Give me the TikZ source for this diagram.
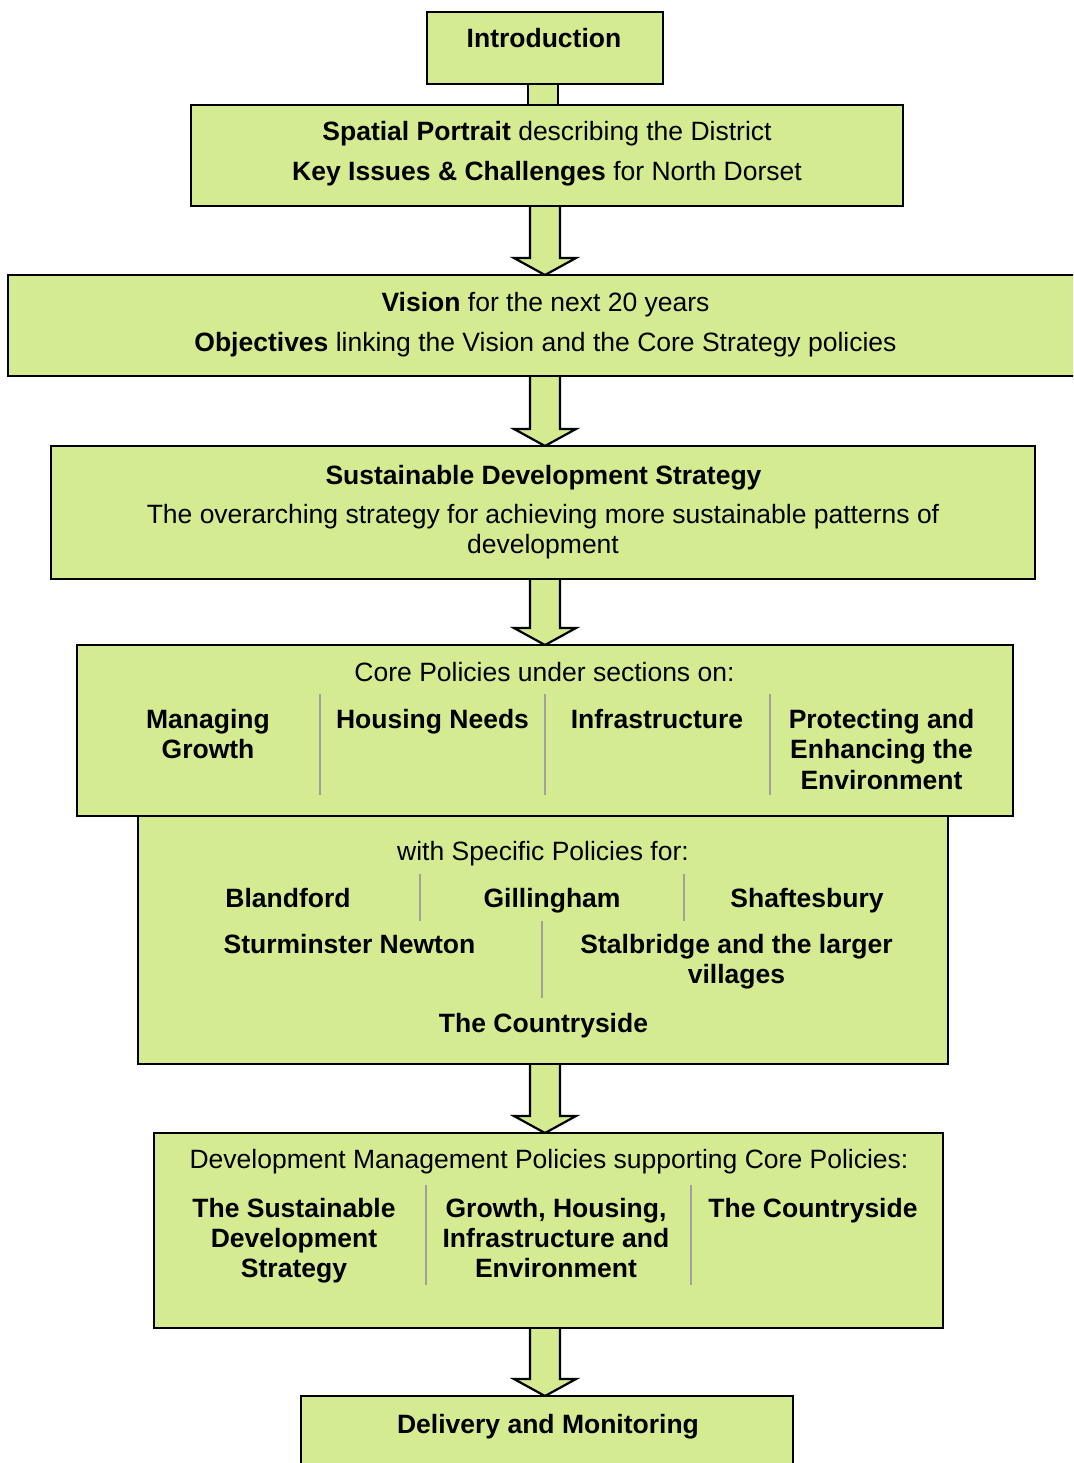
\documentclass[tikz,border=0pt]{standalone}
\usepackage{fontspec}
\setmainfont{Liberation Sans}
\usetikzlibrary{calc,backgrounds}

\definecolor{boxfill}{RGB}{212,235,146}
\definecolor{rulegray}{RGB}{160,160,160}

\tikzset{
  box/.style={draw=black, line width=2.8pt, fill=boxfill, rectangle,
    inner sep=0pt, outer sep=0pt},
  lbl/.style={anchor=base, inner sep=0pt, outer sep=0pt,
    font=\fontsize{26.5}{30.5}\selectfont},
  blbl/.style={lbl, font=\fontsize{26.5}{30.5}\selectfont\bfseries},
  arrowbody/.style={fill=boxfill, draw=black, line width=2.2pt, line join=miter},
  colrule/.style={draw=rulegray, line width=1.6pt}
}

% block arrow from the bottom of one box to the top of the next
\newcommand{\flowarrow}[2]{%
  \filldraw[arrowbody] let \p1=(#1.south), \p2=(#2.north) in
    (530pt,\y1) -- (530pt,\y2+17pt) -- (514pt,\y2+17pt) -- (545pt,\y2)
    -- (576pt,\y2+17pt) -- (560pt,\y2+17pt) -- (560pt,\y1);}

\begin{document}
\begin{tikzpicture}[x=1pt, y=-1pt]
\useasboundingbox (0,0) rectangle (1073,1463);
\clip (0,0) rectangle (1073,1463);

% boxes
\node[box, minimum width=236pt, minimum height=72pt]  (intro)    at (545,48)     {};
\node[box, minimum width=712pt, minimum height=101pt] (spatial)  at (547,155.5)  {};
\node[box, minimum width=1082pt, minimum height=101pt](vision)   at (549,325.5)  {};
\node[box, minimum width=984pt, minimum height=133pt] (sds)      at (543,512.5)  {};
\node[box, minimum width=810pt, minimum height=248pt] (specific) at (543,940)    {};
\node[box, minimum width=936pt, minimum height=171pt] (core)     at (545,730.5)  {};
\node[box, minimum width=789pt, minimum height=195pt] (dm)       at (548.5,1230.5) {};
\node[box, minimum width=492pt, minimum height=84pt]  (delivery) at (547,1438)   {};

% connectors
\begin{scope}[on background layer]
  \fill[boxfill] let \p1=(intro.south), \p2=(spatial.north) in
    (528pt,\y1) rectangle (558pt,\y2);
  \draw[line width=2.2pt] let \p1=(intro.south), \p2=(spatial.north) in
    (528pt,\y1) -- (528pt,\y2) (558pt,\y1) -- (558pt,\y2);
  \flowarrow{spatial}{vision}
  \flowarrow{vision}{sds}
  \flowarrow{sds}{core}
  \flowarrow{specific}{dm}
  \flowarrow{dm}{delivery}
\end{scope}

% column rules
\draw[colrule] (320,694) -- (320,795);
\draw[colrule] (545,694) -- (545,795);
\draw[colrule] (770,694) -- (770,795);
\draw[colrule] (420,874) -- (420,921);
\draw[colrule] (684,874) -- (684,921);
\draw[colrule] (542,921) -- (542,998);
\draw[colrule] (426,1185) -- (426,1285);
\draw[colrule] (691,1185) -- (691,1285);

% texts
\node[blbl] (tIntro) at (544,48) {Introduction};

\node[lbl] (tSp1) at (547,141) {\textbf{Spatial Portrait} describing the District};
\node[lbl] (tSp2) at (547,181) {\textbf{Key Issues \& Challenges} for North Dorset};

\node[lbl] (tVi1) at (545.5,311) {\textbf{Vision} for the next 20 years};
\node[lbl] (tVi2) at (545.5,351) {\textbf{Objectives} linking the Vision and the Core Strategy policies};

\node[blbl] (tSd1) at (543.5,484) {Sustainable Development Strategy};
\node[lbl]  (tSd2) at (543,523) {The overarching strategy for achieving more sustainable patterns of};
\node[lbl]  (tSd3) at (543,553) {development};

\node[lbl]  (tCo0) at (544.5,681) {Core Policies under sections on:};
\node[blbl] (tCo1a) at (208,728) {Managing};
\node[blbl] (tCo1b) at (208,758) {Growth};
\node[blbl] (tCo2)  at (432.5,728) {Housing Needs};
\node[blbl] (tCo3)  at (657,728) {Infrastructure};
\node[blbl] (tCo4a) at (881.5,728) {Protecting and};
\node[blbl] (tCo4b) at (881.5,758) {Enhancing the};
\node[blbl] (tCo4c) at (881.5,789) {Environment};

\node[lbl]  (tSf0) at (543,860) {with Specific Policies for:};
\node[blbl] (tSf1) at (288,907) {Blandford};
\node[blbl] (tSf2) at (552,907) {Gillingham};
\node[blbl] (tSf3) at (807,907) {Shaftesbury};
\node[blbl] (tSf4) at (349.5,953) {Sturminster Newton};
\node[blbl] (tSf5a) at (736.5,953) {Stalbridge and the larger};
\node[blbl] (tSf5b) at (736.5,983) {villages};
\node[blbl] (tSf6) at (543.5,1032) {The Countryside};

\node[lbl]  (tDm0) at (549,1168) {Development Management Policies supporting Core Policies:};
\node[blbl] (tDm1a) at (294,1217) {The Sustainable};
\node[blbl] (tDm1b) at (294,1247) {Development};
\node[blbl] (tDm1c) at (294,1277) {Strategy};
\node[blbl] (tDm2a) at (556,1217) {Growth, Housing,};
\node[blbl] (tDm2b) at (556,1247) {Infrastructure and};
\node[blbl] (tDm2c) at (556,1277) {Environment};
\node[blbl] (tDm3)  at (813,1217) {The Countryside};

\node[blbl] (tDel) at (548,1433) {Delivery and Monitoring};
\end{tikzpicture}
\end{document}
